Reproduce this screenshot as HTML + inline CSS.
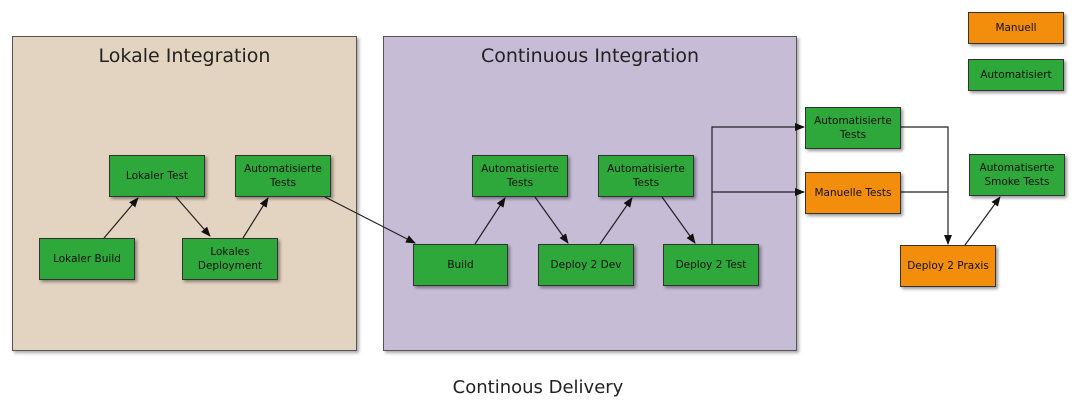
<!DOCTYPE html>
<html><head><meta charset="utf-8"><style>
body{margin:0;width:1076px;height:408px;background:#fff;position:relative;overflow:hidden;font-family:"DejaVu Sans","Liberation Sans",sans-serif}
.g{position:absolute;border:1.5px solid #555;box-shadow:2px 2px 3px rgba(0,0,0,.35)}
.t{position:absolute;left:0;right:0;text-align:center;font-size:19px;color:#222;top:8px}
.n{position:absolute;border:1.5px solid #333;box-shadow:2px 2px 3px rgba(0,0,0,.4);display:flex;align-items:center;justify-content:center;text-align:center;font-size:10.5px;line-height:14px;color:#111;box-sizing:border-box;white-space:nowrap}
.gr{background:#2ea83a}.or{background:#f28e0c}
</style></head><body>
<div class="g" style="left:12px;top:36px;width:343px;height:313px;background:#e3d4c1"><div class="t">Lokale Integration</div></div>
<div class="g" style="left:383px;top:36px;width:412px;height:313px;background:#c6bcd6"><div class="t">Continuous Integration</div></div>
<svg style="position:absolute;left:0;top:0" width="1076" height="408">
<defs><marker id="a" markerWidth="10" markerHeight="8" refX="9" refY="4" orient="auto" markerUnits="userSpaceOnUse"><path d="M0,0L10,4L0,8z" fill="#111"/></marker></defs>
<g stroke="#222" stroke-width="1.2" fill="none" marker-end="url(#a)">
<line x1="104" y1="238" x2="138" y2="198"/>
<line x1="176" y1="197" x2="210" y2="236"/>
<line x1="243" y1="238" x2="268" y2="198"/>
<line x1="325" y1="197" x2="415" y2="243"/>
<line x1="475" y1="244" x2="505" y2="198"/>
<line x1="535" y1="197" x2="568" y2="243"/>
<line x1="600" y1="244" x2="632" y2="198"/>
<line x1="662" y1="197" x2="695" y2="243"/>
<polyline points="712,244 712,127 804,127"/>
<polyline points="712,192 804,192"/>
<polyline points="900,127 948,127 948,244"/>
<line x1="965" y1="245" x2="1000" y2="197"/>
</g>
<line x1="900" y1="192" x2="948" y2="192" stroke="#222" stroke-width="1.2"/>
</svg>
<div class="n gr" style="left:109px;top:155px;width:96px;height:42px">Lokaler Test</div>
<div class="n gr" style="left:235px;top:155px;width:96px;height:42px">Automatisierte<br>Tests</div>
<div class="n gr" style="left:39px;top:238px;width:96px;height:42px">Lokaler Build</div>
<div class="n gr" style="left:182px;top:238px;width:96px;height:42px">Lokales<br>Deployment</div>
<div class="n gr" style="left:413px;top:244px;width:95px;height:42px">Build</div>
<div class="n gr" style="left:472px;top:155px;width:96px;height:42px">Automatisierte<br>Tests</div>
<div class="n gr" style="left:538px;top:244px;width:96px;height:42px">Deploy 2 Dev</div>
<div class="n gr" style="left:598px;top:155px;width:96px;height:42px">Automatisierte<br>Tests</div>
<div class="n gr" style="left:663px;top:244px;width:96px;height:42px">Deploy 2 Test</div>
<div class="n gr" style="left:805px;top:107px;width:96px;height:42px">Automatisierte<br>Tests</div>
<div class="n or" style="left:805px;top:172px;width:96px;height:42px">Manuelle Tests</div>
<div class="n or" style="left:900px;top:245px;width:96px;height:42px">Deploy 2 Praxis</div>
<div class="n gr" style="left:969px;top:154px;width:96px;height:42px">Automatiserte<br>Smoke Tests</div>
<div class="n or" style="left:968px;top:12px;width:96px;height:32px">Manuell</div>
<div class="n gr" style="left:968px;top:59px;width:96px;height:32px">Automatisiert</div>
<div style="position:absolute;left:0;width:1076px;top:377px;text-align:center;font-size:18px;color:#222">Continous Delivery</div>
</body></html>
